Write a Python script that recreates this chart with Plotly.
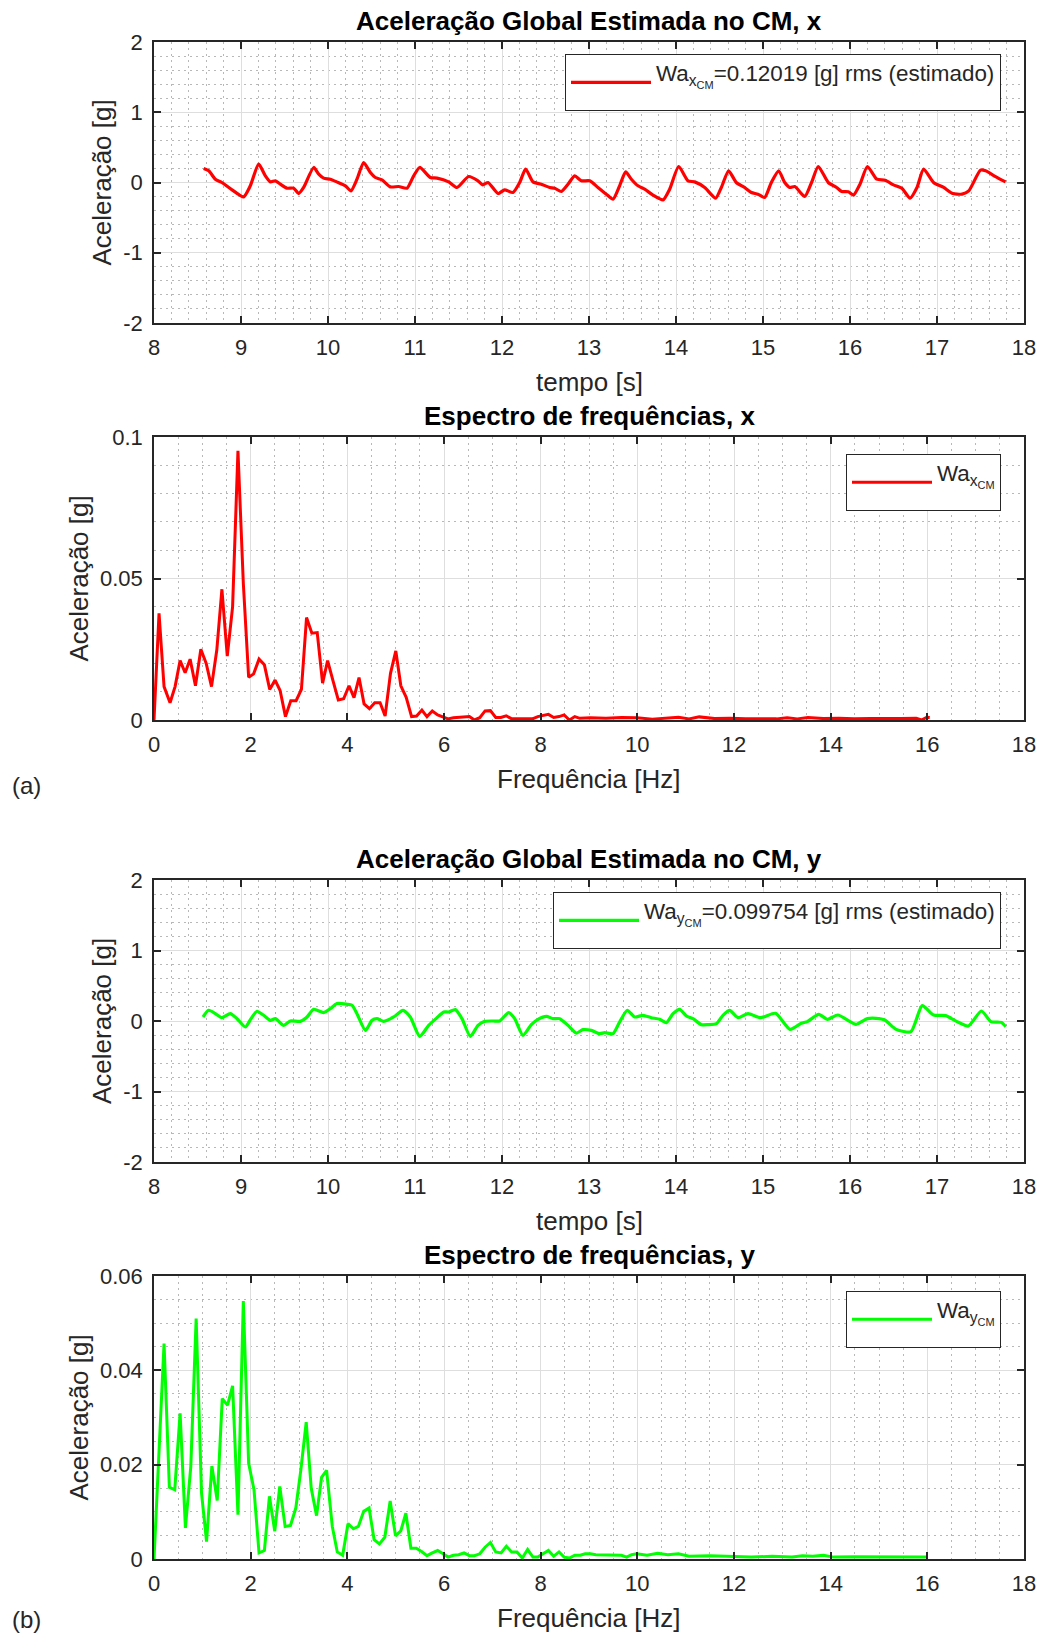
import plotly.graph_objects as go

# ---------------- data ----------------
t_x = [8.571, 8.63, 8.705, 8.78, 8.897, 9.03, 9.107, 9.203, 9.28, 9.337, 9.395, 9.452, 9.529, 9.605,
       9.663, 9.72, 9.835, 9.893, 9.95, 10.027, 10.10, 10.2, 10.264, 10.333, 10.41, 10.487, 10.544,
       10.62, 10.716, 10.812, 10.908, 10.985, 11.054, 11.176, 11.253, 11.387, 11.483, 11.617, 11.724,
       11.78, 11.84, 11.954, 12.03, 12.126, 12.203, 12.272, 12.356, 12.452, 12.548, 12.605, 12.682,
       12.759, 12.835, 12.912, 13.008, 13.103, 13.199, 13.276, 13.352, 13.421, 13.487, 13.563, 13.64,
       13.736, 13.851, 13.927, 14.031, 14.138, 14.215, 14.33, 14.456, 14.521, 14.605, 14.693, 14.789,
       14.866, 14.942, 15.019, 15.096, 15.18, 15.25, 15.308, 15.365, 15.48, 15.558, 15.635, 15.75,
       15.846, 15.904, 15.98, 16.04, 16.115, 16.2, 16.308, 16.404, 16.5, 16.596, 16.69, 16.77, 16.846,
       16.96, 17.077, 17.173, 17.288, 17.365, 17.5, 17.558, 17.673, 17.788]
a_x = [0.199, 0.166, 0.047, 0.0, -0.104, -0.204, -0.047, 0.261, 0.095, 0.009, 0.024, -0.024, -0.081,
       -0.081, -0.157, -0.071, 0.214, 0.119, 0.062, 0.047, 0.009, -0.047, -0.119, 0.047, 0.285, 0.142,
       0.071, 0.038, -0.062, -0.057, -0.081, 0.095, 0.214, 0.071, 0.062, 0.009, -0.071, 0.085, 0.024,
       -0.033, 0.0, -0.157, -0.104, -0.142, 0.0, 0.19, 0.009, -0.024, -0.071, -0.081, -0.128, -0.024,
       0.095, 0.024, 0.024, -0.071, -0.166, -0.237, -0.047, 0.152, 0.047, -0.047, -0.095, -0.18,
       -0.247, -0.095, 0.228, 0.024, 0.009, -0.071, -0.223, -0.071, 0.166, 0.0, -0.071, -0.142,
       -0.166, -0.214, 0.0, 0.166, 0.0, -0.071, -0.057, -0.199, 0.0, 0.228, 0.0, -0.071, -0.128,
       -0.133, -0.18, -0.024, 0.228, 0.047, 0.033, -0.033, -0.081, -0.223, -0.071, 0.19, 0.0, -0.071,
       -0.152, -0.166, -0.119, 0.176, 0.166, 0.085, 0.009]

t_y = [8.563, 8.628, 8.705, 8.78, 8.877, 8.954, 9.05, 9.115, 9.184, 9.26, 9.337, 9.395, 9.49, 9.567,
       9.682, 9.759, 9.835, 9.95, 10.027, 10.103, 10.218, 10.276, 10.333, 10.43, 10.506, 10.563, 10.64,
       10.755, 10.862, 10.946, 11.054, 11.157, 11.253, 11.33, 11.387, 11.464, 11.54, 11.636, 11.724,
       11.8, 11.897, 11.973, 12.077, 12.146, 12.241, 12.337, 12.414, 12.51, 12.586, 12.663, 12.759,
       12.854, 12.93, 13.027, 13.123, 13.18, 13.276, 13.352, 13.44, 13.525, 13.62, 13.716, 13.812,
       13.889, 13.966, 14.042, 14.119, 14.195, 14.291, 14.368, 14.464, 14.54, 14.617, 14.713, 14.828,
       14.973, 15.144, 15.31, 15.44, 15.51, 15.64, 15.74, 15.86, 16.07, 16.20, 16.30, 16.40, 16.53,
       16.70, 16.83, 16.96, 17.10, 17.23, 17.36, 17.51, 17.62, 17.74, 17.79]
a_y = [0.057, 0.152, 0.104, 0.047, 0.104, 0.033, -0.085, 0.033, 0.138, 0.081, 0.009, 0.033, -0.062,
       0.0, -0.005, 0.057, 0.166, 0.119, 0.176, 0.247, 0.237, 0.223, 0.104, -0.133, 0.009, 0.033,
       -0.005, 0.057, 0.152, 0.057, -0.218, -0.062, 0.047, 0.128, 0.128, 0.161, 0.033, -0.218, -0.062,
       -0.005, 0.0, 0.0, 0.119, 0.033, -0.204, -0.052, 0.024, 0.066, 0.033, 0.033, -0.062, -0.171,
       -0.123, -0.133, -0.18, -0.166, -0.18, -0.014, 0.152, 0.057, 0.081, 0.047, 0.024, -0.024, 0.104,
       0.166, 0.071, 0.033, -0.052, -0.052, -0.038, 0.081, 0.152, 0.047, 0.104, 0.047, 0.109, -0.119,
       -0.033, -0.009, 0.095, 0.024, 0.085, -0.047, 0.033, 0.038, 0.014, -0.119, -0.152, 0.218, 0.085,
       0.076, -0.009, -0.071, 0.142, -0.009, -0.019, -0.081]

f_x = [0.0, 0.104, 0.208, 0.332, 0.436, 0.54, 0.644, 0.747, 0.858, 0.969, 1.08, 1.19, 1.30, 1.405,
       1.516, 1.626, 1.737, 1.848, 1.958, 2.062, 2.173, 2.284, 2.394, 2.505, 2.609, 2.72, 2.83, 2.94,
       3.05, 3.156, 3.266, 3.377, 3.488, 3.592, 3.70, 3.813, 3.924, 4.035, 4.138, 4.242, 4.346, 4.457,
       4.567, 4.678, 4.782, 4.893, 5.003, 5.107, 5.218, 5.329, 5.433, 5.543, 5.647, 5.758, 5.869,
       5.98, 6.083, 6.194, 6.304, 6.415, 6.526, 6.63, 6.74, 6.85, 6.96, 7.07, 7.176, 7.287, 7.40,
       7.51, 7.61, 7.72, 7.83, 7.94, 8.05, 8.16, 8.27, 8.38, 8.485, 8.595, 8.706, 8.81, 9.03, 9.35,
       9.67, 9.99, 10.31, 10.53, 10.85, 11.07, 11.28, 11.6, 11.92, 12.24, 12.56, 12.88, 13.1, 13.31,
       13.53, 13.85, 14.17, 14.49, 14.81, 15.13, 15.45, 15.77, 15.88, 15.99, 16.05]
s_x = [0.0, 0.0377, 0.0118, 0.0061, 0.0118, 0.021, 0.0167, 0.0215, 0.0121, 0.025, 0.020, 0.0118,
       0.0248, 0.0462, 0.0226, 0.040, 0.0951, 0.0483, 0.0151, 0.0163, 0.0215, 0.0195, 0.0108, 0.0141,
       0.0104, 0.0012, 0.0068, 0.0068, 0.0108, 0.0362, 0.0307, 0.0309, 0.013, 0.021, 0.0141, 0.0071,
       0.0075, 0.0121, 0.0079, 0.015, 0.0057, 0.004, 0.0061, 0.0061, 0.0014, 0.0165, 0.0244, 0.0121,
       0.008, 0.0012, 0.0014, 0.0035, 0.0012, 0.0032, 0.0018, 0.0012, 0.0004, 0.0008, 0.0009,
       0.0012, 0.0012, 0.0, 0.0008, 0.0032, 0.0033, 0.0009, 0.0009, 0.0015, 0.0004, 0.0004, 0.0004,
       0.0006, 0.0004, 0.0012, 0.0015, 0.002, 0.0009, 0.0012, 0.0018, 0.0, 0.0012, 0.0006, 0.0008,
       0.0006, 0.0009, 0.0008, 0.0003, 0.0005, 0.0010, 0.0004, 0.0011, 0.0005, 0.0006, 0.0004,
       0.0005, 0.0004, 0.0008, 0.0004, 0.0009, 0.0005, 0.0006, 0.0004, 0.0005, 0.0004, 0.0005,
       0.0006, 0.0, 0.0010, 0.0009]

f_y = [0.0, 0.104, 0.208, 0.318, 0.429, 0.54, 0.65, 0.761, 0.872, 0.983, 1.087, 1.197, 1.308, 1.412,
       1.522, 1.626, 1.737, 1.848, 1.958, 2.069, 2.173, 2.284, 2.388, 2.498, 2.602, 2.713, 2.824,
       2.934, 3.038, 3.149, 3.253, 3.363, 3.467, 3.571, 3.689, 3.792, 3.903, 4.014, 4.125, 4.228,
       4.339, 4.45, 4.554, 4.664, 4.775, 4.886, 4.997, 5.107, 5.211, 5.315, 5.426, 5.536, 5.647,
       5.758, 5.869, 5.98, 6.083, 6.194, 6.304, 6.415, 6.526, 6.63, 6.74, 6.85, 6.96, 7.07, 7.18,
       7.29, 7.40, 7.51, 7.62, 7.73, 7.84, 7.94, 8.055, 8.16, 8.27, 8.38, 8.485, 8.595, 8.706, 8.82,
       8.92, 9.03, 9.14, 9.67, 9.78, 9.88, 9.99, 10.2, 10.42, 10.63, 10.85, 11.07, 11.5, 11.93, 12.36,
       12.79, 13.2, 13.42, 13.63, 13.85, 14.06, 14.5, 14.93, 15.36, 15.8, 16.0]
s_y = [0.0, 0.0228, 0.0457, 0.0152, 0.0147, 0.0309, 0.0066, 0.0196, 0.051, 0.014, 0.0037, 0.0197,
       0.0124, 0.034, 0.0326, 0.0367, 0.0094, 0.0547, 0.0203, 0.0147, 0.0013, 0.0018, 0.0133, 0.0059,
       0.0154, 0.0069, 0.0071, 0.0108, 0.0189, 0.029, 0.015, 0.0092, 0.0173, 0.0188, 0.0069, 0.0015,
       0.0008, 0.0075, 0.0064, 0.0069, 0.0101, 0.0108, 0.0041, 0.0032, 0.0046, 0.0123, 0.0049, 0.006,
       0.0097, 0.0023, 0.0023, 0.0016, 0.0007, 0.0013, 0.0018, 0.0011, 0.0004, 0.0008, 0.0009,
       0.0013, 0.0007, 0.0007, 0.0011, 0.0025, 0.0035, 0.0015, 0.0013, 0.0027, 0.0015, 0.0015,
       0.0002, 0.002, 0.0004, 0.0004, 0.0011, 0.0018, 0.0006, 0.0015, 0.0004, 0.0002, 0.0008, 0.0008,
       0.0011, 0.0011, 0.0009, 0.0008, 0.0004, 0.0009, 0.0011, 0.0008, 0.0012, 0.0009, 0.0011,
       0.0006, 0.0007, 0.0005, 0.0004, 0.0006, 0.0004, 0.0007, 0.0006, 0.0008, 0.0004, 0.0005,
       0.0005, 0.0004, 0.0005, 0.0004]

legend_labels = ["Wa<sub>x<sub>CM</sub></sub>=0.12019 [g] rms (estimado)",
                 "Wa<sub>x<sub>CM</sub></sub>",
                 "Wa<sub>y<sub>CM</sub></sub>=0.099754 [g] rms (estimado)",
                 "Wa<sub>y<sub>CM</sub></sub>"]
titles = ["Aceleração Global Estimada no CM, x", "Espectro de frequências, x",
          "Aceleração Global Estimada no CM, y", "Espectro de frequências, y"]
time_ticks = [-2, -1, 0, 1, 2]
time_ticktext = ["-2", "-1", "0", "1", "2"]

# ---------------- layout helpers ----------------
W, H = 1040, 1636
FONT = "Liberation Sans, Arial, Helvetica, sans-serif"
TXT = "#262626"
RED, GREEN = "#ff0000", "#00ff00"

def px_x(x):
    return x / W

def px_y(y):
    return 1 - y / H

XL, XR = 154, 1024
boxes = [(42, 323), (437, 720), (880, 1162), (1276, 1559)]

fig = go.Figure()

series = [(t_x, a_x, RED, 3.2, "spline"), (f_x, s_x, RED, 3, "linear"),
          (t_y, a_y, GREEN, 3.2, "spline"), (f_y, s_y, GREEN, 3, "linear")]
legend_boxes = [(1001, 54), (1001, 454), (1001, 892), (1001, 1291)]

for i, (xs, ys, col, lw, shape) in enumerate(series):
    k = "" if i == 0 else str(i + 1)
    fig.add_trace(go.Scatter(x=xs, y=ys, mode="lines",
                             line=dict(color=col, width=lw, shape=shape,
                                       smoothing=0.6 if shape == "spline" else None),
                             name="<sup>" + legend_labels[i] + "</sup>",
                             xaxis="x" + k, yaxis="y" + k,
                             legend="legend" + k, showlegend=True))

MINOR_GRID = dict(showgrid=True, griddash="2px,4px", gridcolor="#b8b8b8", gridwidth=1, ticks="")

axis_common = dict(showline=True, linecolor=TXT, linewidth=1.5, mirror="allticks",
                   ticks="inside", ticklen=7, tickwidth=1.5, tickcolor=TXT,
                   showgrid=True, gridcolor="#dedede", gridwidth=1, zeroline=False,
                   tickfont=dict(family=FONT, size=22, color=TXT))

layout = dict(width=W, height=H, margin=dict(l=0, r=0, t=0, b=0, autoexpand=False),
              paper_bgcolor="white", plot_bgcolor="white",
              font=dict(family=FONT, color=TXT), annotations=[])

for i, (top, bot) in enumerate(boxes):
    k = "" if i == 0 else str(i + 1)
    is_time = i in (0, 2)
    xa = dict(axis_common, domain=[px_x(XL), px_x(XR)], anchor="y" + k, ticklabelstandoff=4)
    ya = dict(axis_common, domain=[px_y(bot), px_y(top)], anchor="x" + k, ticklabelstandoff=5)
    if is_time:
        xa.update(range=[8, 18], dtick=1, tick0=8, minor=dict(MINOR_GRID, dtick=0.2, tick0=8))
        ya.update(range=[-2, 2], tickvals=time_ticks, ticktext=time_ticktext,
                  minor=dict(MINOR_GRID, dtick=0.2, tick0=0))
    else:
        xa.update(range=[0, 18], dtick=2, tick0=0, minor=dict(MINOR_GRID, dtick=0.5, tick0=0))
        if i == 1:
            ya.update(range=[0, 0.1], dtick=0.05, tick0=0, minor=dict(MINOR_GRID, dtick=0.01, tick0=0))
        else:
            ya.update(range=[0, 0.06], dtick=0.02, tick0=0, minor=dict(MINOR_GRID, dtick=0.005, tick0=0))
    layout["xaxis" + k] = xa
    layout["yaxis" + k] = ya

    lx, ly = legend_boxes[i]
    layout["legend" + k] = dict(x=px_x(lx), y=px_y(ly), xanchor="right", yanchor="top",
                                bgcolor="white", bordercolor=TXT, borderwidth=1,
                                font=dict(family=FONT, size=32, color=TXT), itemwidth=80)

    # subplot title
    layout["annotations"].append(dict(text="<b>" + titles[i] + "</b>", x=px_x((XL + XR) / 2),
                                      y=px_y(top - 21), xref="paper", yref="paper", showarrow=False,
                                      font=dict(family=FONT, size=26, color="black"),
                                      xanchor="center", yanchor="middle"))
    # x label
    layout["annotations"].append(dict(text="tempo [s]" if is_time else "Frequência [Hz]",
                                      x=px_x((XL + XR) / 2), y=px_y(bot + 59), xref="paper", yref="paper",
                                      showarrow=False, font=dict(family=FONT, size=26, color=TXT),
                                      xanchor="center", yanchor="middle"))
    # y label
    layout["annotations"].append(dict(text="Aceleração [g]", textangle=-90,
                                      x=px_x(102 if is_time else 78), y=px_y((top + bot) / 2),
                                      xref="paper", yref="paper", showarrow=False,
                                      font=dict(family=FONT, size=26, color=TXT),
                                      xanchor="center", yanchor="middle"))

for lab, yy in (("(a)", 785), ("(b)", 1619)):
    layout["annotations"].append(dict(text=lab, x=px_x(26), y=px_y(yy), xref="paper", yref="paper",
                                      showarrow=False, font=dict(family=FONT, size=24, color=TXT),
                                      xanchor="center", yanchor="middle"))

fig.update_layout(**layout)
fig.write_html("out.html")
